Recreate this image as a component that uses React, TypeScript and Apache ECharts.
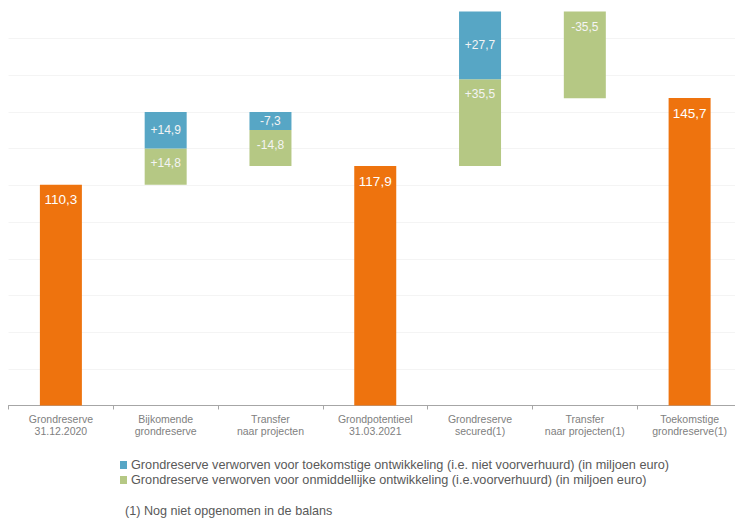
import React, { useEffect, useRef } from "react";
import * as echarts from "echarts";

const categories = [
  "Grondreserve\n31.12.2020",
  "Bijkomende\ngrondreserve",
  "Transfer\nnaar projecten",
  "Grondpotentieel\n31.03.2021",
  "Grondreserve\nsecured(1)",
  "Transfer\nnaar projecten(1)",
  "Toekomstige\ngrondreserve(1)",
];

// totals (orange), null where not a total
const totals: (number | null)[] = [110.3, null, null, 117.9, null, null, 145.7];
// signed deltas
const greenDelta: (number | null)[] = [null, 14.8, -14.8, null, 35.5, -35.5, null];
const blueDelta: (number | null)[] = [null, 14.9, -7.3, null, 27.7, null, null];

const blueName =
  "Grondreserve verworven voor toekomstige ontwikkeling (i.e. niet voorverhuurd) (in miljoen euro)";
const greenName =
  "Grondreserve verworven voor onmiddellijke ontwikkeling (i.e.voorverhuurd) (in miljoen euro)";
const footnote = "(1) Nog niet opgenomen in de balans";

const fmt = (v: number, sign: boolean) => {
  const s = Math.abs(v).toFixed(1).replace(".", ",");
  if (!sign) return s;
  return (v >= 0 ? "+" : "-") + s;
};

function buildPlaceholder() {
  const placeholder: (number | string)[] = [];
  let running = 0;
  for (let i = 0; i < categories.length; i++) {
    const t = totals[i];
    if (t != null) {
      running = t;
      placeholder.push("-");
    } else {
      const after = running + (greenDelta[i] ?? 0) + (blueDelta[i] ?? 0);
      placeholder.push(+Math.min(running, after).toFixed(2));
      running = after;
    }
  }
  return placeholder;
}

export default function App() {
  const ref = useRef<HTMLDivElement>(null);
  useEffect(() => {
    if (!ref.current) return;
    const chart = echarts.init(ref.current, undefined, { renderer: "svg" });
    const placeholder = buildPlaceholder();
    const font = "'Liberation Sans', Arial, sans-serif";
    chart.setOption({
      animation: false,
      textStyle: { fontFamily: font },
      grid: { left: 8.5, right: 0, top: 2, height: 403.5 },
      legend: {
        data: [
          { name: blueName, icon: "rect" },
          { name: greenName, icon: "rect" },
        ],
        orient: "vertical",
        left: 120,
        top: 458,
        padding: 0,
        itemWidth: 7,
        itemHeight: 8,
        itemGap: 1,
        selectedMode: false,
        textStyle: { fontSize: 12.7, color: "#595959", fontFamily: font, lineHeight: 14, padding: [0, 0, 0, -1] },
      },
      graphic: [
        {
          type: "text",
          left: 125,
          top: 504,
          style: { text: footnote, fontSize: 12.6, fill: "#595959", fontFamily: font },
        },
      ],
      xAxis: {
        type: "category",
        data: categories,
        axisLine: { lineStyle: { color: "#a6a6a6", width: 1 } },
        axisTick: { show: true, length: 4, lineStyle: { color: "#a6a6a6" } },
        axisLabel: {
          interval: 0,
          color: "#808080",
          fontSize: 10.5,
          lineHeight: 12.5,
          margin: 7,
          fontFamily: "'Liberation Sans Narrow', 'Liberation Sans', Arial, sans-serif",
        },
      },
      yAxis: {
        type: "value",
        min: 20,
        max: 185,
        interval: 15,
        axisLabel: { show: false },
        axisLine: { show: false },
        axisTick: { show: false },
        splitLine: { show: true, showMaxLine: false, lineStyle: { color: "#f4f4f4" } },
      },
      series: [
        {
          name: "base",
          type: "bar",
          stack: "w",
          barWidth: 42,
          clip: true,
          itemStyle: { color: "transparent" },
          emphasis: { disabled: true },
          data: placeholder,
        },
        {
          name: "Totaal",
          type: "bar",
          stack: "w",
          barWidth: 42,
          clip: true,
          itemStyle: { color: "#EE730E" },
          label: {
            show: true,
            position: "insideTop",
            distance: 8,
            color: "#ffffff",
            fontSize: 13.5,
            formatter: (p: any) => fmt(p.value, false),
          },
          data: totals.map((v) => (v == null ? "-" : v)),
        },
        {
          name: greenName,
          type: "bar",
          stack: "w",
          barWidth: 42,
          clip: true,
          itemStyle: { color: "#B5C884" },
          label: {
            show: true,
            position: "insideTop",
            distance: 9,
            color: "#f4f4f4",
            fontSize: 12,
            formatter: (p: any) => fmt(greenDelta[p.dataIndex] as number, true),
          },
          data: greenDelta.map((v) => (v == null ? "-" : Math.abs(v))),
        },
        {
          name: blueName,
          type: "bar",
          stack: "w",
          barWidth: 42,
          clip: true,
          itemStyle: { color: "#57A6C5" },
          label: {
            show: true,
            position: "inside",
            color: "#f4f4f4",
            fontSize: 12,
            formatter: (p: any) => fmt(blueDelta[p.dataIndex] as number, true),
          },
          data: blueDelta.map((v) => (v == null ? "-" : Math.abs(v))),
        },
      ],
    });
    return () => chart.dispose();
  }, []);
  return (
    <div
      style={{ position: "fixed", left: 0, top: 0, width: 735, height: 522, overflow: "hidden", background: "#fff" }}
    >
      <div ref={ref} style={{ width: 742, height: 522 }} />
    </div>
  );
}
